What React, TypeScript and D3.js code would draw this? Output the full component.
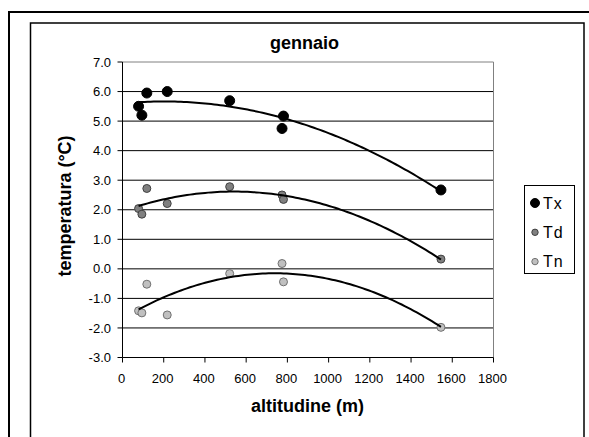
import React from "react";
import * as d3 from "d3";

const altitudes = [78, 94, 118, 217, 520, 774, 781, 1545];
const txValues = [5.5, 5.2, 5.95, 6.0, 5.69, 4.75, 5.17, 2.67];
const tdValues = [2.04, 1.85, 2.72, 2.21, 2.78, 2.5, 2.35, 0.33];
const tnValues = [-1.42, -1.49, -0.52, -1.56, -0.16, 0.18, -0.44, -1.98];
const seriesNames = ["Tx", "Td", "Tn"];
const yTicks = [-3, -2, -1, 0, 1, 2, 3, 4, 5, 6, 7];
const xTicks = [0, 200, 400, 600, 800, 1000, 1200, 1400, 1600, 1800];
const title = "gennaio";
const xTitle = "altitudine (m)";
const yTitle = "temperatura (°C)";

const styles = [
  { fill: "#000000", stroke: "#000000", r: 5, lr: 4.5 },
  { fill: "#808080", stroke: "#404040", r: 4, lr: 3.2 },
  { fill: "#c0c0c0", stroke: "#707070", r: 4, lr: 3.2 },
];

function quadFit(xs: number[], ys: number[]) {
  // least squares y = a + b x + c x^2
  let s0 = 0, s1 = 0, s2 = 0, s3 = 0, s4 = 0, t0 = 0, t1 = 0, t2 = 0;
  xs.forEach((x, i) => {
    const y = ys[i];
    s0 += 1; s1 += x; s2 += x * x; s3 += x * x * x; s4 += x * x * x * x;
    t0 += y; t1 += x * y; t2 += x * x * y;
  });
  const M = [
    [s0, s1, s2, t0],
    [s1, s2, s3, t1],
    [s2, s3, s4, t2],
  ];
  for (let i = 0; i < 3; i++) {
    let p = i;
    for (let k = i + 1; k < 3; k++) if (Math.abs(M[k][i]) > Math.abs(M[p][i])) p = k;
    [M[i], M[p]] = [M[p], M[i]];
    for (let k = 0; k < 3; k++) {
      if (k === i) continue;
      const f = M[k][i] / M[i][i];
      for (let j = i; j < 4; j++) M[k][j] -= f * M[i][j];
    }
  }
  const a = M[0][3] / M[0][0], b = M[1][3] / M[1][1], c = M[2][3] / M[2][2];
  return (x: number) => a + b * x + c * x * x;
}

export default function App() {
  const W = 589, H = 437;
  const x = d3.scaleLinear().domain([0, 1800]).range([122.5, 493.5]);
  const y = d3.scaleLinear().domain([-3, 7]).range([357.5, 62]);
  const font = "'Liberation Sans', Arial, sans-serif";
  const series = [txValues, tdValues, tnValues];
  const line = d3.line<[number, number]>().x((d) => x(d[0])).y((d) => y(d[1]));
  const [xmin, xmax] = d3.extent(altitudes) as [number, number];
  const samples = d3.range(0, 101).map((i) => xmin + ((xmax - xmin) * i) / 100);

  return (
    <svg width={W} height={H} style={{ position: "absolute", left: 0, top: 0, background: "#fff" }}>
      <rect x={0} y={0} width={W} height={H} fill="#fff" />
      {/* outer frames */}
      <rect x={9} y={12} width={600} height={500} fill="none" stroke="#000" strokeWidth={2} />
      <rect x={30.5} y={23} width={553.5} height={500} fill="none" stroke="#000" strokeWidth={1.5} />
      {/* title */}
      <text x={304.5} y={48.5} textAnchor="middle" fontFamily={font} fontWeight="bold" fontSize={18}>
        {title}
      </text>
      {/* gridlines */}
      {yTicks.filter((t) => t > -3 && t < 7).map((t) => (
        <line key={t} x1={x(0)} x2={x(1800)} y1={y(t)} y2={y(t)} stroke="#000" strokeWidth={1} />
      ))}
      {/* plot border */}
      <line x1={x(0)} x2={x(1800)} y1={y(7)} y2={y(7)} stroke="#808080" strokeWidth={1} />
      <line x1={x(1800)} x2={x(1800)} y1={y(7)} y2={y(-3)} stroke="#808080" strokeWidth={1} />
      <line x1={x(0)} x2={x(0)} y1={y(7)} y2={y(-3)} stroke="#000" strokeWidth={1} />
      <line x1={x(0)} x2={x(1800)} y1={y(-3)} y2={y(-3)} stroke="#000" strokeWidth={1} />
      {/* y ticks */}
      {yTicks.map((t) => (
        <g key={t}>
          <line x1={x(0) - 5} x2={x(0)} y1={y(t)} y2={y(t)} stroke="#000" />
          <text x={111} y={y(t)} dy="0.35em" textAnchor="end" fontFamily={font} fontSize={13}>
            {t.toFixed(1)}
          </text>
        </g>
      ))}
      {/* x ticks */}
      {xTicks.map((t) => (
        <g key={t}>
          <line x1={x(t)} x2={x(t)} y1={y(-3)} y2={y(-3) + 5} stroke="#000" />
          <text x={x(t) - 1} y={383} textAnchor="middle" fontFamily={font} fontSize={13}>
            {t}
          </text>
        </g>
      ))}
      {/* axis titles */}
      <text x={307.5} y={412} textAnchor="middle" fontFamily={font} fontWeight="bold" fontSize={18}>
        {xTitle}
      </text>
      <text
        transform={`translate(71,206) rotate(-90)`}
        textAnchor="middle"
        fontFamily={font}
        fontWeight="bold"
        fontSize={18}
      >
        {yTitle}
      </text>
      {/* markers */}
      {series.map((vals, si) =>
        vals.map((v, i) => (
          <circle
            key={`${si}-${i}`}
            cx={x(altitudes[i])}
            cy={y(v)}
            r={styles[si].r}
            fill={styles[si].fill}
            stroke={styles[si].stroke}
            strokeWidth={1}
          />
        ))
      )}
      {/* trend lines */}
      {series.map((vals, si) => {
        const f = quadFit(altitudes, vals);
        const pts = samples.map((s) => [s, f(s)] as [number, number]);
        return <path key={si} d={line(pts) || ""} fill="none" stroke="#000" strokeWidth={2} />;
      })}
      {/* legend */}
      <rect x={524.5} y={185.5} width={50} height={88} fill="#fff" stroke="#000" strokeWidth={1} />
      {seriesNames.map((n, i) => {
        const cy = 203 + i * 29.3;
        return (
          <g key={n}>
            <circle cx={535} cy={cy} r={styles[i].lr} fill={styles[i].fill} stroke={styles[i].stroke} />
            <text x={543} y={cy + 5.5} fontFamily={font} fontSize={16} letterSpacing={1}>
              {n}
            </text>
          </g>
        );
      })}
    </svg>
  );
}
